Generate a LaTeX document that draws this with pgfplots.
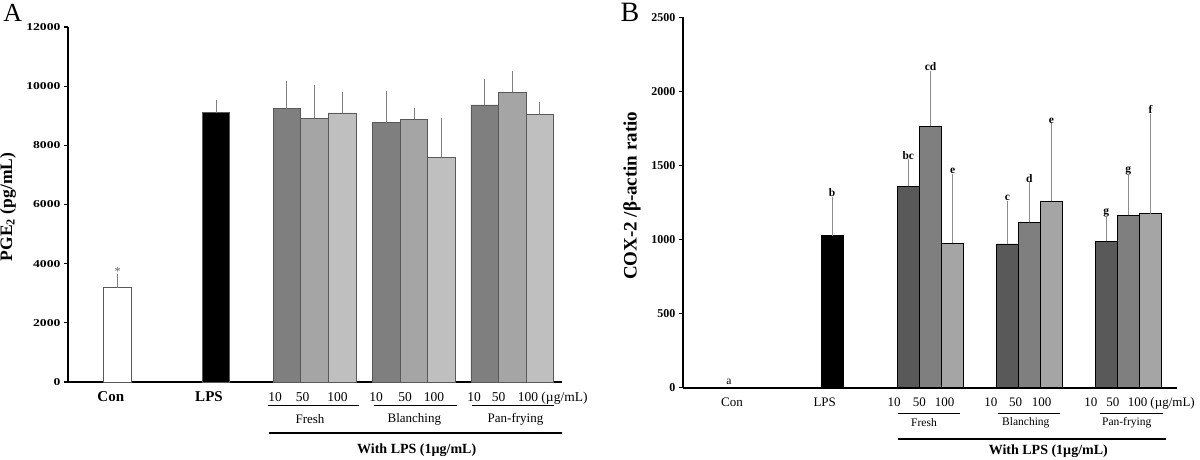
\documentclass[border=0pt]{standalone}
\usepackage{fontspec}
\setmainfont{Liberation Serif}
\newfontfamily\tickAfont{Liberation Serif}[FakeStretch=1.3]
\usepackage{pgfplots}
\pgfplotsset{compat=1.18}
\definecolor{aone}{HTML}{7F7F7F}
\definecolor{atwo}{HTML}{A5A5A5}
\definecolor{athree}{HTML}{BFBFBF}
\definecolor{abord}{HTML}{595959}
\definecolor{aerr}{HTML}{7F7F7F}
\definecolor{bone}{HTML}{595959}
\definecolor{btwo}{HTML}{7F7F7F}
\definecolor{bthree}{HTML}{A5A5A5}
\definecolor{berr}{HTML}{8C8C8C}
\pgfplotsset{
  barA/.style={ybar, bar shift=0pt, fill=#1, draw=abord, line width=0.8pt,
    error bars/y dir=plus, error bars/y explicit,
    error bars/error bar style={color=aerr, line width=0.9pt},
    error bars/error mark options={color=aerr, line width=0.9pt, mark size=2.2pt}},
  barB/.style={ybar, bar shift=0pt, fill=#1, draw=black, line width=0.6pt,
    error bars/y dir=plus, error bars/y explicit,
    error bars/error bar style={color=berr, line width=0.8pt},
    error bars/error mark options={color=berr, line width=0.8pt, mark size=2pt}},
}
\begin{document}
\begin{tikzpicture}
\useasboundingbox (0,0) rectangle (1200pt,-460pt);
% ---------------- Panel A ----------------
\begin{axis}[
  at={(68pt,-382pt)}, anchor=south west,
  width=494pt, height=355pt, scale only axis,
  xmin=0, xmax=494, ymin=0, ymax=12000,
  axis lines=left,
  x axis line style={-, line width=2.6pt},
  y axis line style={-, line width=1.8pt},
  ytick={0,2000,...,12000},
  scaled y ticks=false,
  tick align=outside, major tick length=4pt,
  ytick style={line width=1.2pt, black},
  xtick={42.8,141,207,234.5,269.5,308,337,366,406,430.5,460},
  xticklabels={{\fontsize{15}{17}\selectfont\textbf{Con}},{\fontsize{15}{17}\selectfont\textbf{LPS}},10,50,100,10,50,100,10,50,{100\rlap{ (µg/mL)}}},
  xtick style={draw=none},
  xticklabel style={font=\fontsize{13.5}{15}\selectfont, anchor=base, yshift=-15pt},
  yticklabel style={font=\tickAfont\bfseries\fontsize{10.5}{12}\selectfont},
  /pgf/number format/assume math mode=true,
  /pgf/number format/1000 sep={},
  ylabel={\textbf{PGE\textsubscript{2} (pg/mL)}},
  every axis y label/.style={at={(rel axis cs:0,0.493)}, xshift=-60pt, rotate=90, anchor=center, font=\fontsize{17.5}{19}\selectfont},
  clip=false,
  bar width=27.7,
]
\addplot[barA=white] coordinates {(49.5,3188) +- (0,372)};
\addplot[barA=black] coordinates {(148,9104) +- (0,351)};
\addplot[barA=aone] coordinates {(218.9,9240) +- (0,858) (318.5,8766) +- (0,981) (416.8,9364) +- (0,812)};
\addplot[barA=atwo] coordinates {(246.7,8915) +- (0,1034) (346,8881) +- (0,291) (444.3,9794) +- (0,642)};
\addplot[barA=athree] coordinates {(274.2,9094) +- (0,632) (373.2,7596) +- (0,1261) (471.8,9050) +- (0,325)};
\addplot[draw=none, nodes near coords, point meta=explicit symbolic,
  nodes near coords style={anchor=south, inner sep=1pt, font=\fontsize{12}{13}\selectfont, text=abord}]
  coordinates {(49.5,3560)[*]};
\end{axis}
% ---------------- Panel B ----------------
\begin{axis}[
  at={(683pt,-387.7pt)}, anchor=south west,
  width=494pt, height=370.4pt, scale only axis,
  xmin=0, xmax=494, ymin=0, ymax=2500,
  axis lines=left,
  x axis line style={-, line width=1.6pt},
  y axis line style={-, line width=1.4pt},
  ytick={0,500,...,2500},
  scaled y ticks=false,
  tick align=outside, major tick length=4pt,
  ytick style={line width=1pt, black},
  xtick={49,141.7,211,236.3,261.7,307.8,332.5,358.7,407.8,429.8,454.5},
  xticklabels={Con,LPS,10,50,100,10,50,100,10,50,{100\rlap{ (µg/mL)}}},
  xtick style={draw=none},
  xticklabel style={font=\fontsize{13}{15}\selectfont, anchor=base, yshift=-15pt},
  yticklabel style={font=\bfseries\fontsize{12}{14}\selectfont},
  /pgf/number format/assume math mode=true,
  /pgf/number format/1000 sep={},
  ylabel={\textbf{COX-2 /β-actin ratio}},
  every axis y label/.style={at={(rel axis cs:0,0.518)}, xshift=-51pt, rotate=90, anchor=center, font=\fontsize{19}{21}\selectfont},
  clip=false,
  bar width=22,
]
\addplot[barB=black] coordinates {(149,1026) +- (0,250)};
\addplot[barB=bone] coordinates {(225.3,1361) +- (0,167) (324.3,970) +- (0,279) (423.3,990) +- (0,151)};
\addplot[barB=btwo] coordinates {(247.5,1766) +- (0,360) (346.3,1116) +- (0,259) (445.3,1164) +- (0,258)};
\addplot[barB=bthree] coordinates {(269.7,975) +- (0,456) (368.5,1258) +- (0,513) (467.5,1175) +- (0,661)};
\addplot[draw=none, nodes near coords, point meta=explicit symbolic,
  nodes near coords style={anchor=south, inner sep=1.5pt, font=\bfseries\fontsize{11.5}{13}\selectfont}]
  coordinates {(149,1276)[b] (225.3,1528)[bc] (247.5,2126)[cd] (269.7,1431)[e] (324.3,1249)[c] (346.3,1375)[d] (368.5,1771)[e] (423.3,1141)[g] (445.3,1422)[g] (467.5,1836)[f]};
\addplot[draw=none, nodes near coords, point meta=explicit symbolic,
  nodes near coords style={anchor=south, inner sep=3pt, font=\fontsize{11.5}{13}\selectfont}]
  coordinates {(46,0)[a]};
\end{axis}
% ---------------- annotations ----------------
\node[font=\fontsize{26}{28}\selectfont] at (12.8pt,-13.3pt) {A};
\draw[line width=1pt] (268pt,-405.7pt) -- (359pt,-405.7pt);
\draw[line width=1pt] (374pt,-405.7pt) -- (457pt,-405.7pt);
\draw[line width=1pt] (472pt,-405.7pt) -- (554pt,-405.7pt);
\node[font=\fontsize{13}{15}\selectfont] at (310pt,-419pt) {Fresh};
\node[font=\fontsize{13}{15}\selectfont] at (414.3pt,-419pt) {Blanching};
\node[font=\fontsize{13}{15}\selectfont] at (515.5pt,-419pt) {Pan-frying};
\draw[line width=1.5pt] (269pt,-433pt) -- (562pt,-433pt);
\node[font=\bfseries\fontsize{14}{16}\selectfont] at (416.7pt,-450.5pt) {With LPS (1µg/mL)};
\node[font=\fontsize{28}{30}\selectfont] at (630pt,-12pt) {B};
\draw[line width=0.8pt] (898pt,-413pt) -- (960pt,-413pt);
\draw[line width=0.8pt] (998pt,-413pt) -- (1060pt,-413pt);
\draw[line width=0.8pt] (1100pt,-413pt) -- (1163pt,-413pt);
\node[font=\fontsize{11.5}{13}\selectfont] at (924pt,-422.5pt) {Fresh};
\node[font=\fontsize{11.5}{13}\selectfont] at (1025.8pt,-422.5pt) {Blanching};
\node[font=\fontsize{11.5}{13}\selectfont] at (1126.7pt,-422.5pt) {Pan-frying};
\draw[line width=1.2pt] (898pt,-439pt) -- (1166pt,-439pt);
\node[font=\bfseries\fontsize{14}{16}\selectfont] at (1048.3pt,-451pt) {With LPS (1µg/mL)};
\end{tikzpicture}
\end{document}
